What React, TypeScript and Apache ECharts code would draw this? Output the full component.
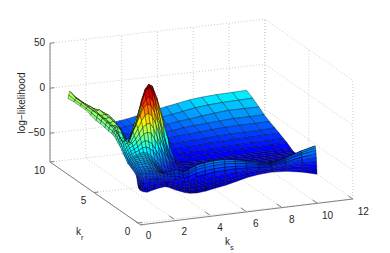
import React, { useEffect, useRef } from "react";
import * as echarts from "echarts";

const kGrid = [0.02,0.06,0.12,0.2,0.3,0.5,0.7,0.9,1.1,1.3,1.5,1.7,1.9,2.1,2.35,2.6,2.9,3.3,3.8,4.3,4.9,5.5,6.1,6.8,7.5,8.3,9.2,10];
const rGrid = [8,7.3,6.6,6,5.4,4.8,4.3,3.8,3.4,3,2.85,2.65,2.47,2.3,2.15,2,1.85,1.7,1.58,1.45,1.32,1.2,1.1,1,0.9,0.8,0.7,0.6,0.45,0.3,0.2,0.16,0.13,0.1,0.07,0.05,0.03,0.015,0];
const zRows = [
[2,6,10,8,5,1,-3,-6,-10,-15,-20,-23,-25,-27,-29,-30,-29,-28,-26,-24,-21.5,-19,-17,-14.5,-13,-12,-11.5,-11],
[3,5,7,6,5,1,-2,-4,-9,-14,-20,-24,-27,-29,-31,-32,-31,-30,-28,-27,-25,-23,-21,-18.5,-17,-16,-15.5,-15],
[3,5,7,6,5,2,-1,-3,-7,-13,-20,-25,-29,-31,-33,-34,-33,-32,-31,-30,-28,-26,-25,-23,-21.5,-20,-20,-20],
[3,4.5,6,6,6,3,1,-2,-6,-13,-21,-27,-31,-33,-35,-36,-35,-34,-33,-32,-31,-29,-28,-27,-26,-25,-25,-24.5],
[1,3.5,6,5,5,6,3,0,-7,-15,-23,-29,-33,-35,-37,-37,-37,-36,-35,-34,-33,-32,-31,-30,-29,-28.5,-28.5,-28],
[-1,2.5,6,5,4,5,4,-1,-9,-17,-25,-31,-35,-37,-38,-39,-38,-38,-37,-36,-35.5,-35,-34,-33,-32.5,-32,-32,-31],
[-1,2,5,4.5,4,5,3,-2,-11,-19,-27,-33,-36,-38,-39,-40,-40,-39,-38.5,-38,-37.5,-37,-36,-35.5,-35,-34.5,-34,-33.5],
[-2,1,4,3.5,3,4,-1,-8,-14,-22,-25,-30,-32,-34,-35,-36.5,-38,-40,-40,-40,-39.5,-39,-38.5,-38,-37.5,-37,-36.5,-36],
[-3,0,3,2.5,2,3,-3,-10,-18,-11,-14,-15,-15.5,-17,-21,-26,-33,-39,-41,-42,-41.5,-41,-40.5,-40,-39.5,-39,-38.5,-38],
[-3,-0.5,2,3,4,0,-8,-15,-7,2.5,12,21,23,19,9,-5,-23,-37,-43,-44,-44,-44,-43.5,-43,-42.5,-42,-41.5,-41],
[-4,-1.5,1,0.5,-1,-3,-11,-10,-1.5,8,20,34,38,33,20,4,-16,-37,-44,-44.5,-44.5,-44.5,-44,-43.5,-43,-42.5,-42.5,-42],
[-5,-2.5,0,-3,-6,-7,-14,-5,8,18,33,45,50,47.5,34,17,-7,-37,-44.5,-45,-45,-45,-44.5,-44,-44,-43.5,-43.5,-43],
[-7,-4,-1.5,-5,-8,-9.5,-9,0,10,25,38,47,48,42,27,8,-13,-39,-45,-45.5,-45.5,-45.5,-45,-44.5,-44.5,-44,-43.5,-43],
[-9,-6,-3,-6.5,-10,-12,-5,5,15.5,30,43,49,45,33,14,-7,-27,-40.5,-45,-46,-46,-46,-45.5,-45,-45,-44.5,-44,-43.5],
[-10.5,-7.5,-4.5,-6,-7.5,-9.5,-0.5,8.5,18.5,30,38,40,34,22,3.5,-15,-32,-42.5,-46,-46.5,-46.5,-46.5,-46,-45.5,-45.5,-45,-44.5,-43.7],
[-12,-9,-6,-5.5,-5,-7,4,12,21.5,30,33,31,23,10.5,-7.5,-23.5,-37,-44.5,-47,-47,-47,-47,-46.5,-46,-46,-45.5,-45,-44],
[-14.5,-12,-9,-7.5,-6.5,-6.5,1,8,16,22,24,20,11,-1.5,-16.5,-29,-39.5,-45,-47,-47,-47,-46.7,-46.2,-46,-45.7,-45.2,-44.5,-43],
[-17,-14.5,-12,-10,-8,-6,-2,4,10,13,14,8,-2,-13,-25.5,-35,-42,-46,-47,-47,-47,-46.5,-46,-46,-45.5,-45,-44,-42],
[-18.5,-16,-14,-12,-10.5,-8.5,-5.5,-0.5,3.5,5,4,-3,-11,-20.5,-31,-38.5,-44,-46.5,-47.2,-47.2,-47,-46.7,-46.2,-46.2,-45.7,-45,-44,-41.7],
[-20,-18,-16,-14.5,-13,-11,-9,-5,-3,-4,-7,-14,-20.5,-28,-36,-42,-45.5,-47,-47.5,-47.5,-47,-47,-46.5,-46.5,-46,-45,-44,-41.5],
[-22,-19.5,-17.5,-16,-15,-13.5,-12,-9.5,-9,-11,-14.5,-20.5,-27,-33,-39,-43.5,-45.7,-47,-47.2,-47.2,-46.7,-46.5,-46,-45.7,-45.2,-44.2,-42.7,-40.2],
[-24,-21.5,-19,-18,-17,-16,-14.5,-14,-15,-18,-22,-27.5,-33,-38,-42,-44.7,-46,-47,-47,-47,-46.5,-46,-45.5,-45,-44.5,-43.5,-41.5,-39],
[-24.5,-22,-20,-18.7,-17.5,-16.5,-15.5,-15.2,-17,-20,-24.7,-29.7,-35,-39,-42.2,-44.3,-45.2,-46,-46,-45.7,-45.2,-45,-44.5,-44,-43.5,-42.2,-40.2,-38],
[-25,-23,-21,-19.5,-18,-17,-16.5,-16.5,-19,-22.5,-27.5,-32,-37,-40,-42.5,-44,-44.5,-45,-45,-44.5,-44,-44,-43.5,-43,-42.5,-41,-39,-37],
[-25.7,-23.7,-21.7,-20.3,-19,-18.2,-17.7,-18.2,-20.5,-23.7,-28.7,-33,-37,-39.7,-41.7,-43,-43.7,-44,-43.7,-43.2,-42.5,-42.5,-42.2,-42,-41.5,-40,-37.5,-35],
[-26.5,-24.5,-22.5,-21,-20,-19.5,-19,-20,-22,-25,-30,-34,-37,-39.5,-41,-42,-43,-43,-42.5,-42,-41,-41,-41,-41,-40.5,-39,-36,-33],
[-27,-25,-23.2,-22,-21,-20.7,-20.5,-21.5,-23.5,-26.5,-31,-34.5,-37,-38.7,-40,-40.7,-41,-40,-39.2,-38.7,-38.2,-38.7,-39.5,-40.5,-40.7,-38,-34.5,-31.5],
[-27.5,-25.7,-24,-23,-22,-22,-22,-23,-25,-28,-32,-35,-37,-38,-39,-39.5,-39,-37,-36,-35.5,-35.5,-36.5,-38,-40,-41,-37,-33,-30],
[-29,-27,-25,-24.5,-24,-24,-24,-25,-27,-30,-33,-35,-36,-36,-36.5,-37,-35.5,-32,-30,-29,-29,-30.5,-33,-36,-39,-34,-29,-26],
[-30,-28.5,-27,-26,-25.5,-25,-25,-26,-28,-30,-32,-33,-34,-34,-34,-34,-32,-28,-26,-25,-25,-26.5,-29,-32,-35,-31,-25,-21],
[-32.5,-30.7,-29,-28,-27,-26,-26.5,-27.5,-29,-30.5,-31,-31,-30.5,-30,-30,-33,-31,-27,-25,-24,-24,-25.5,-28,-31,-34,-30,-24,-20],
[-34,-32.5,-31,-29.7,-28.5,-28,-28,-29,-30.5,-32,-32,-32,-32,-31.5,-31.5,-34.5,-32.5,-29,-27,-26,-26,-27,-29,-32,-34.5,-31,-25.5,-22],
[-36,-34.5,-33,-31.5,-30,-29.5,-30,-30.5,-32,-33,-33,-33.5,-33,-33,-33,-36,-34.5,-31,-29.5,-28.5,-28,-29,-30.5,-33,-35,-32,-27,-24.5],
[-37.5,-36,-35,-34,-33,-32.5,-32.5,-33,-34,-35,-35,-35,-35,-35.5,-36,-38.5,-37.5,-35,-33,-32,-31.5,-32,-33,-34.5,-36,-33.5,-30,-28],
[-39.5,-38,-37,-36,-35.5,-35,-35,-35.5,-36,-36.5,-36.5,-37,-37.5,-38,-39,-41.5,-41,-38.5,-37,-35.5,-35,-34.5,-35,-36,-37,-35,-33,-32],
[-40.5,-39.7,-39,-38.7,-38.5,-38.5,-38,-38,-38,-39,-39,-39,-40,-41,-42,-44.5,-44.5,-43,-41.5,-40,-39,-38,-37.5,-37.5,-38,-37,-36,-36.5],
[-41.5,-41.2,-41,-41.2,-41.5,-42,-41.5,-41,-40.5,-41,-41,-41.5,-42.5,-44,-45.5,-47.5,-48,-47,-46,-44,-43,-41,-40,-39,-39.5,-39,-39.5,-41],
[-42,-42.7,-43.5,-44.2,-45,-45.5,-45,-44,-43,-43,-43,-44,-45,-47,-49,-51,-52,-51.5,-50.5,-48.5,-47,-44.5,-42.5,-41,-41,-41,-43,-45.5],
[-42,-44,-46,-47,-48,-49,-48,-47,-46,-45.5,-45,-46,-48,-50,-52,-54,-55.5,-56,-55,-53,-51,-48,-45,-43,-42,-43,-46,-50],
];

const ksTicks = [0, 2, 4, 6, 8, 10, 12];
const krTicks = [0, 5, 10];
const zTicks = [-50, 0, 50];
const ksLabels = ["0", "2", "4", "6", "8", "10", "12"];
const krLabels = ["0", "5", "10"];
const zLabels = ["\u221250", "0", "50"];

const Z_FLOOR = -82;
const COLOR_MIN = -60;
const COLOR_MAX = 50;
const COLOR_GAMMA = 1.2;

// orthographic view of the 3D box, in the 390x253 axis units
function project(k: number, r: number, z: number): [number, number] {
  return [138 + 17.9 * k - 8.8 * r, 223 - 2 * k - 6.1 * r - 0.9 * (z - Z_FLOOR)];
}

function jet(t: number): string {
  t = Math.pow(Math.max(0, Math.min(1, t)), COLOR_GAMMA);
  const c = (v: number) => Math.round(255 * Math.max(0, Math.min(1, v)));
  const r = 1.5 - Math.abs(4 * t - 3);
  const g = 1.5 - Math.abs(4 * t - 2);
  const b = 1.5 - Math.abs(4 * t - 1);
  return `rgb(${c(r)},${c(g)},${c(b)})`;
}

const cells: number[][] = [];
for (let i = 0; i < rGrid.length - 1; i++) {
  for (let j = kGrid.length - 2; j >= 0; j--) {
    cells.push([kGrid[j], kGrid[j + 1], rGrid[i], rGrid[i + 1], zRows[i][j], zRows[i][j + 1], zRows[i + 1][j + 1], zRows[i + 1][j]]);
  }
}

// [k1, r1, z1, k2, r2, z2] wire segments of the box
const gridSegs: number[][] = [];
const axisSegs: number[][] = [];
ksTicks.forEach((k) => {
  gridSegs.push([k, 0, Z_FLOOR, k, 10, Z_FLOOR]);
  gridSegs.push([k, 10, Z_FLOOR, k, 10, 50]);
  axisSegs.push([k, 0, Z_FLOOR, k, 0.5, Z_FLOOR]);
});
krTicks.forEach((r) => {
  gridSegs.push([0, r, Z_FLOOR, 12, r, Z_FLOOR]);
  gridSegs.push([12, r, Z_FLOOR, 12, r, 50]);
  axisSegs.push([0, r, Z_FLOOR, 0.25, r, Z_FLOOR]);
});
zTicks.forEach((z) => {
  gridSegs.push([0, 10, z, 12, 10, z]);
  gridSegs.push([12, 10, z, 12, 0, z]);
  axisSegs.push([0, 10, z, 0.25, 10, z]);
});
axisSegs.push([0, 10, Z_FLOOR, 0, 10, 50]);
axisSegs.push([0, 10, Z_FLOOR, 0, -0.4, Z_FLOOR]);
axisSegs.push([0, -0.3, Z_FLOOR, 12, 0, Z_FLOOR]);

const SANS = "Liberation Sans, Arial, sans-serif";
type Lab = [string, number, number, number, number, string, number];
const labels: Lab[] = [
  ...ksLabels.map((s, i): Lab => { const p = project(ksTicks[i], 0, Z_FLOOR); return [s, p[0], p[1], 10.5, 12, "center", 10]; }),
  ...krLabels.map((s, i): Lab => { const p = project(0, krTicks[i], Z_FLOOR); return [s, p[0], p[1], -10.5, 8, "center", 10]; }),
  ...zLabels.map((s, i): Lab => { const p = project(0, 10, zTicks[i]); return [s, p[0], p[1], -5, -1, "right", 10]; }),
];

export default function App() {
  const ref = useRef<HTMLDivElement>(null);
  useEffect(() => {
    const chart = echarts.init(ref.current!, undefined, { renderer: "svg" });
    const seg = (color: string, width: number, dash: any) => (_: any, api: any) => {
      const a = api.coord(project(api.value(0), api.value(1), api.value(2)));
      const b = api.coord(project(api.value(3), api.value(4), api.value(5)));
      return {
        type: "line",
        shape: { x1: a[0], y1: a[1], x2: b[0], y2: b[1] },
        style: { stroke: color, lineWidth: width, lineDash: dash },
        silent: true,
      };
    };
    chart.setOption({
      animation: false,
      backgroundColor: "#ffffff",
      grid: { left: 0, right: 0, top: 0, bottom: 0 },
      xAxis: { type: "value", min: 0, max: 390, show: false },
      yAxis: { type: "value", min: 0, max: 253, inverse: true, show: false },
      series: [
        { type: "custom", coordinateSystem: "cartesian2d", silent: true, data: gridSegs, renderItem: seg("#cccccc", 1, [1, 2]), encode: { x: 0, y: 1 }, clip: false },
        { type: "custom", coordinateSystem: "cartesian2d", silent: true, data: axisSegs, renderItem: seg("#808080", 1, null), encode: { x: 0, y: 1 }, clip: false },
        {
          type: "custom",
          coordinateSystem: "cartesian2d",
          silent: true,
          clip: false,
          encode: { x: 0, y: 2 },
          data: cells,
          renderItem: (_: any, api: any) => {
            const k1 = api.value(0), k2 = api.value(1), r1 = api.value(2), r2 = api.value(3);
            const z = [api.value(4), api.value(5), api.value(6), api.value(7)];
            const pts = [
              api.coord(project(k1, r1, z[0])),
              api.coord(project(k2, r1, z[1])),
              api.coord(project(k2, r2, z[2])),
              api.coord(project(k1, r2, z[3])),
            ];
            const m = (z[0] + z[1] + z[2] + z[3]) / 4;
            return {
              type: "polygon",
              shape: { points: pts },
              style: { fill: jet((m - COLOR_MIN) / (COLOR_MAX - COLOR_MIN)), stroke: "rgba(0,0,0,0.7)", lineWidth: 0.5 },
              silent: true,
            };
          },
        },
        {
          type: "custom",
          coordinateSystem: "cartesian2d",
          silent: true,
          clip: false,
          encode: { x: 1, y: 2 },
          data: labels.map((l) => [l[0], l[1], l[2]]),
          renderItem: (params: any, api: any) => {
            const l = labels[params.dataIndex];
            const p = api.coord([l[1], l[2]]);
            return {
              type: "text",
              silent: true,
              style: {
                text: l[0], x: p[0] + l[3], y: p[1] + l[4], fill: "#262626",
                font: `${l[6]}px ${SANS}`, textAlign: l[5], textVerticalAlign: "middle",
              },
            };
          },
        },
      ],
      graphic: [
        { type: "text", x: 21, y: 103, rotation: Math.PI / 2, style: { text: "log\u2212likelihood", font: `10px ${SANS}`, fill: "#262626", textAlign: "center", textVerticalAlign: "middle" }, silent: true },
        { type: "text", x: 76, y: 226, style: { text: "k", font: `10px ${SANS}`, fill: "#262626" }, silent: true },
        { type: "text", x: 81, y: 233, style: { text: "r", font: `7.5px ${SANS}`, fill: "#262626" }, silent: true },
        { type: "text", x: 225, y: 236, style: { text: "k", font: `10px ${SANS}`, fill: "#262626" }, silent: true },
        { type: "text", x: 230, y: 243, style: { text: "s", font: `7.5px ${SANS}`, fill: "#262626" }, silent: true },
      ],
    });
    return () => chart.dispose();
  }, []);
  return <div ref={ref} style={{ position: "fixed", left: 0, top: 0, width: 390, height: 253 }} />;
}
